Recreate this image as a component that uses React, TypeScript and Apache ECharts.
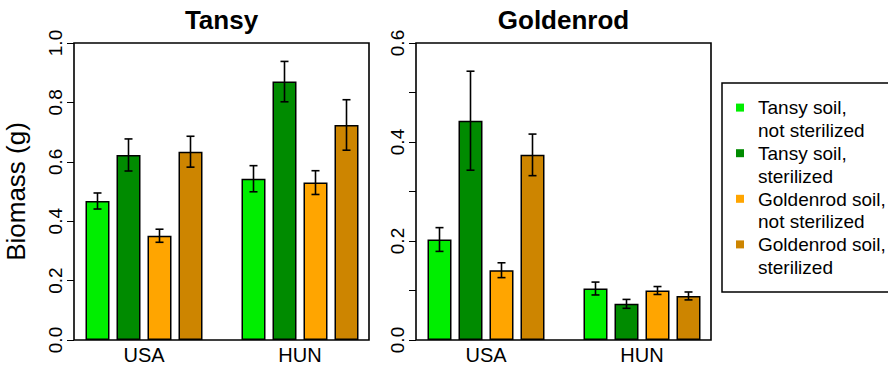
import React, { useEffect, useRef } from 'react';
import * as echarts from 'echarts';

// ---- data ----
const sites = ['USA', 'HUN'];
const treatments = [
  'Tansy soil,\nnot sterilized',
  'Tansy soil,\nsterilized',
  'Goldenrod soil,\nnot sterilized',
  'Goldenrod soil,\nsterilized',
];
const treatmentColors = ['#00EE00', '#008B00', '#FFA500', '#CD8500'];
const panelTitles = ['Tansy', 'Goldenrod'];

// Tansy panel: mean biomass per treatment, [USA, HUN]
const tansyMean = [
  [0.468, 0.543],
  [0.623, 0.870],
  [0.351, 0.530],
  [0.634, 0.724],
];
// Tansy panel: standard error per treatment, [USA, HUN]
const tansyErr = [
  [0.027, 0.044],
  [0.054, 0.068],
  [0.022, 0.040],
  [0.052, 0.085],
];
// Goldenrod panel: mean biomass per treatment, [USA, HUN]
const goldenrodMean = [
  [0.203, 0.104],
  [0.443, 0.073],
  [0.141, 0.100],
  [0.374, 0.089],
];
// Goldenrod panel: standard error per treatment, [USA, HUN]
const goldenrodErr = [
  [0.024, 0.013],
  [0.100, 0.009],
  [0.015, 0.008],
  [0.042, 0.008],
];
const tansyAxis = { min: 0, max: 1.0, interval: 0.2 };
const goldenrodAxis = { min: 0, max: 0.6, interval: 0.1 };

// ---- styling / layout ----
const FONT = 'Liberation Sans, Arial, Helvetica, sans-serif';
const BAR_W = 24;
const BAR_GAP = 7;
const LEG_LH = 22.8;
// legend icon: 8x8 square near the top of a tall (two-line) icon box
const LEG_ICON = 'path://M0,0L0,0M0,7h8v8h-8ZM8,45.6L8,45.6';

export default function App() {
  const ref = useRef<HTMLDivElement>(null);

  useEffect(() => {
    if (!ref.current) return;
    const chart = echarts.init(ref.current, undefined, { renderer: 'svg' });

    const panels = [
      { mean: tansyMean, err: tansyErr, axis: tansyAxis, left: 66, box: 74 },
      { mean: goldenrodMean, err: goldenrodErr, axis: goldenrodAxis, left: 408, box: 416 },
    ];
    const GRID_TOP = 43;
    const GRID_H = 297;
    const GRID_W = 312;
    const BOX_W = 295;

    const series: any[] = [];
    panels.forEach((p, pi) => {
      treatments.forEach((name, ti) => {
        series.push({
          type: 'bar',
          name,
          xAxisIndex: pi,
          yAxisIndex: pi,
          barWidth: BAR_W,
          barGap: (BAR_GAP / BAR_W) * 100 + '%',
          data: p.mean[ti],
          itemStyle: { color: treatmentColors[ti], borderColor: '#000', borderWidth: 1.5 },
          emphasis: { disabled: true },
        });
      });
      const errData: number[][] = [];
      treatments.forEach((_, ti) => {
        sites.forEach((__, si) => {
          errData.push([si, p.mean[ti][si], p.err[ti][si], ti]);
        });
      });
      series.push({
        type: 'custom',
        name: 'err' + pi,
        xAxisIndex: pi,
        yAxisIndex: pi,
        z: 10,
        data: errData,
        encode: { x: 0, y: 1 },
        renderItem: (params: any, api: any) => {
          const cat = api.value(0);
          const m = api.value(1);
          const e = api.value(2);
          const t = api.value(3);
          const dx = (t - (treatments.length - 1) / 2) * (BAR_W + BAR_GAP);
          const hi = api.coord([cat, m + e]);
          const lo = api.coord([cat, m - e]);
          const x = hi[0] + dx;
          const cap = 4;
          const st = { stroke: '#000', lineWidth: 1.6 };
          return {
            type: 'group',
            children: [
              { type: 'line', shape: { x1: x, y1: hi[1], x2: x, y2: lo[1] }, style: st },
              { type: 'line', shape: { x1: x - cap, y1: hi[1], x2: x + cap, y2: hi[1] }, style: st },
              { type: 'line', shape: { x1: x - cap, y1: lo[1], x2: x + cap, y2: lo[1] }, style: st },
            ],
          };
        },
      });
    });

    const option: any = {
      animation: false,
      backgroundColor: '#fff',
      textStyle: { fontFamily: FONT },
      title: panels.map((p, pi) => ({
        text: panelTitles[pi],
        left: p.box + BOX_W / 2,
        top: 7,
        textAlign: 'center',
        padding: 0,
        textStyle: { fontSize: 26, fontWeight: 'bold', color: '#000', fontFamily: FONT },
      })),
      grid: panels.map((p) => ({
        left: p.left,
        top: GRID_TOP,
        width: GRID_W,
        height: GRID_H,
        containLabel: false,
      })),
      xAxis: panels.map((_, pi) => ({
        type: 'category',
        gridIndex: pi,
        data: sites,
        axisLine: { show: false },
        axisTick: { show: false },
        axisLabel: { fontSize: 20, color: '#000', margin: 5, fontFamily: FONT },
      })),
      yAxis: panels.map((p, pi) => ({
        type: 'value',
        gridIndex: pi,
        min: p.axis.min,
        max: p.axis.max,
        interval: p.axis.interval,
        offset: p.left - p.box,
        name: pi === 0 ? 'Biomass (g)' : '',
        nameLocation: 'middle',
        nameGap: 45,
        nameRotate: 90,
        nameTextStyle: { fontSize: 26, color: '#000', fontFamily: FONT },
        axisLine: { show: false },
        axisTick: { show: true, length: 7, lineStyle: { color: '#000', width: 1 } },
        splitLine: { show: false },
        axisLabel: {
          rotate: 90,
          fontSize: 19,
          color: '#000',
          margin: 9,
          fontFamily: FONT,
          formatter: (v: number) =>
            Math.round(v * 10) % 2 === 0 ? v.toFixed(1) : '',
        },
      })),
      legend: {
        data: treatments,
        orient: 'vertical',
        left: 722,
        top: 83,
        icon: LEG_ICON,
        itemWidth: 8,
        itemHeight: 2 * LEG_LH,
        itemGap: 0,
        padding: [13.6, 30, 13, 14],
        borderColor: '#000',
        borderWidth: 1.5,
        itemStyle: { borderWidth: 0 },
        selectedMode: false,
        textStyle: {
          fontSize: 19,
          lineHeight: LEG_LH,
          color: '#000',
          fontFamily: FONT,
          padding: [0, 0, 0, 9],
        },
      },
      graphic: panels.map((p) => ({
        type: 'rect',
        z: 100,
        silent: true,
        shape: { x: p.box, y: GRID_TOP, width: BOX_W, height: GRID_H },
        style: { fill: 'none', stroke: '#000', lineWidth: 1.6 },
      })),
      series,
    };

    chart.setOption(option);
    return () => chart.dispose();
  }, []);

  return (
    <div
      ref={ref}
      style={{ position: 'fixed', left: 0, top: 0, width: 888, height: 365, background: '#fff' }}
    />
  );
}
